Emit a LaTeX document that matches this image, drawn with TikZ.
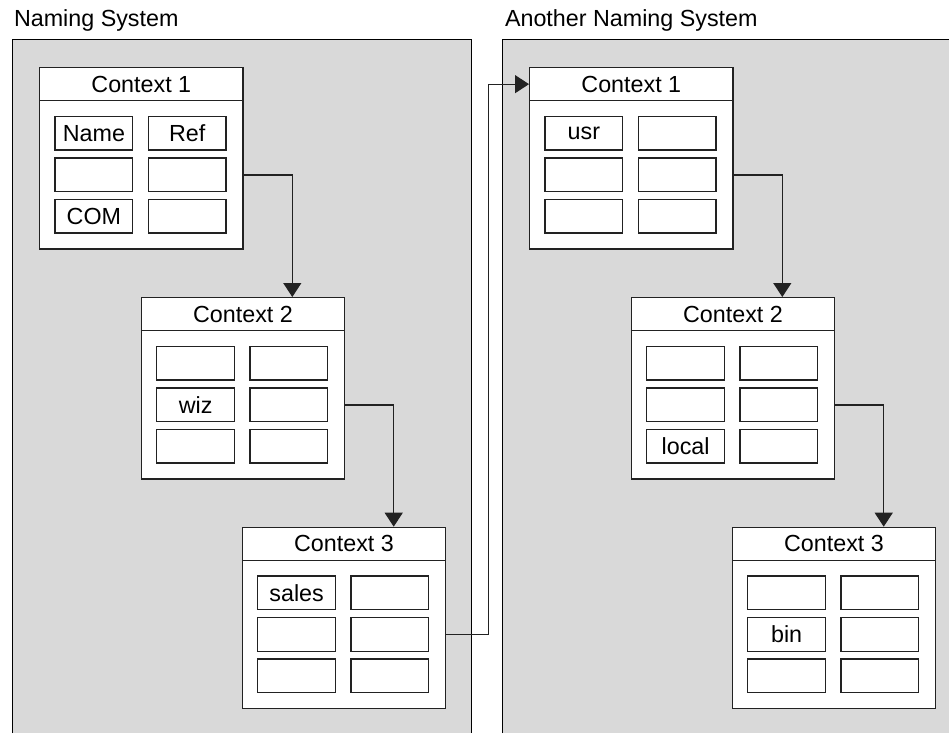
\documentclass[tikz,border=0pt]{standalone}
\usepackage{fontspec}
\setmainfont{Liberation Sans}
\usetikzlibrary{arrows.meta,calc}

\definecolor{panelgray}{HTML}{D9D9D9}
\definecolor{edge}{HTML}{222222}

\tikzset{
  txt/.style={font=\fontsize{23.3}{27}\selectfont, text=black},
  ctxframe/.style={draw=edge, line width=1.3pt, fill=white,
    minimum width=203.3pt, minimum height=181.3pt, inner sep=0pt},
  ctxhead/.style={draw=edge, line width=1.3pt, txt,
    minimum width=203.3pt, minimum height=33pt, inner sep=0pt},
  cell/.style={draw=edge, line width=1.2pt, fill=white, txt,
    minimum width=77.7pt, minimum height=33.7pt, inner sep=0pt},
  conn/.style={draw=edge, line width=1.2pt,
    -{Triangle[width=18pt,length=14pt]}},
  paneledge/.style={draw=black, line width=1.1pt},
  pics/ctx/.style n args={7}{code={
    \node[ctxframe, anchor=north west] (-box) at (0,0) {};
    \node[ctxhead, anchor=north west] (-head) at (0,0) {#1};
    \node[cell] (-a) at (54.9,66.2) {#2};
    \node[cell] (-b) at (148.2,66.2) {#3};
    \node[cell] (-c) at (54.9,107.9) {#4};
    \node[cell] (-d) at (148.2,107.9) {#5};
    \node[cell] (-e) at (54.9,149.2) {#6};
    \node[cell] (-f) at (148.2,149.2) {#7};
  }}
}

\begin{document}
\begin{tikzpicture}[x=1pt, y=-1pt]
  \useasboundingbox (0,0) rectangle (949,733);

  % the two naming-system panels
  \fill[panelgray] (12.3,39.5) rectangle (471.3,733);
  \draw[paneledge] (12.3,733) -- (12.3,39.5) -- (471.3,39.5) -- (471.3,733);
  \fill[panelgray] (502.3,39.5) rectangle (949,733);
  \draw[paneledge] (502.3,733) -- (502.3,39.5) -- (949,39.5);

  \node[txt, anchor=base west] (ttlL) at (10.5,26.7) {Naming System};
  \node[txt, anchor=base west] (ttlR) at (501.5,26.7) {Another Naming System};

  % contexts of the first system
  \pic (L1) at (39,67)      {ctx={Context 1}{Name}{Ref}{}{}{COM}{}};
  \pic (L2) at (140.7,297)  {ctx={Context 2}{}{}{wiz}{}{}{}};
  \pic (L3) at (241.7,526.7){ctx={Context 3}{sales}{}{}{}{}{}};

  % contexts of the second system
  \pic (R1) at (529,67)      {ctx={Context 1}{usr}{}{}{}{}{}};
  \pic (R2) at (630.7,297)   {ctx={Context 2}{}{}{}{}{local}{}};
  \pic (R3) at (731.7,526.7) {ctx={Context 3}{}{}{bin}{}{}{}};

  % links between contexts
  \draw[conn] (L1-d.east -| L1-box.east) -| ($(L2-box.north west)+(151.6,0)$);
  \draw[conn] (L2-d.east -| L2-box.east) -| ($(L3-box.north west)+(152,0)$);
  \draw[conn] (R1-d.east -| R1-box.east) -| ($(R2-box.north west)+(151.6,0)$);
  \draw[conn] (R2-d.east -| R2-box.east) -| ($(R3-box.north west)+(152,0)$);
  \draw[conn] (L3-d.east -| L3-box.east) -- ++(42,0) |- (R1-head.west);
\end{tikzpicture}
\end{document}
